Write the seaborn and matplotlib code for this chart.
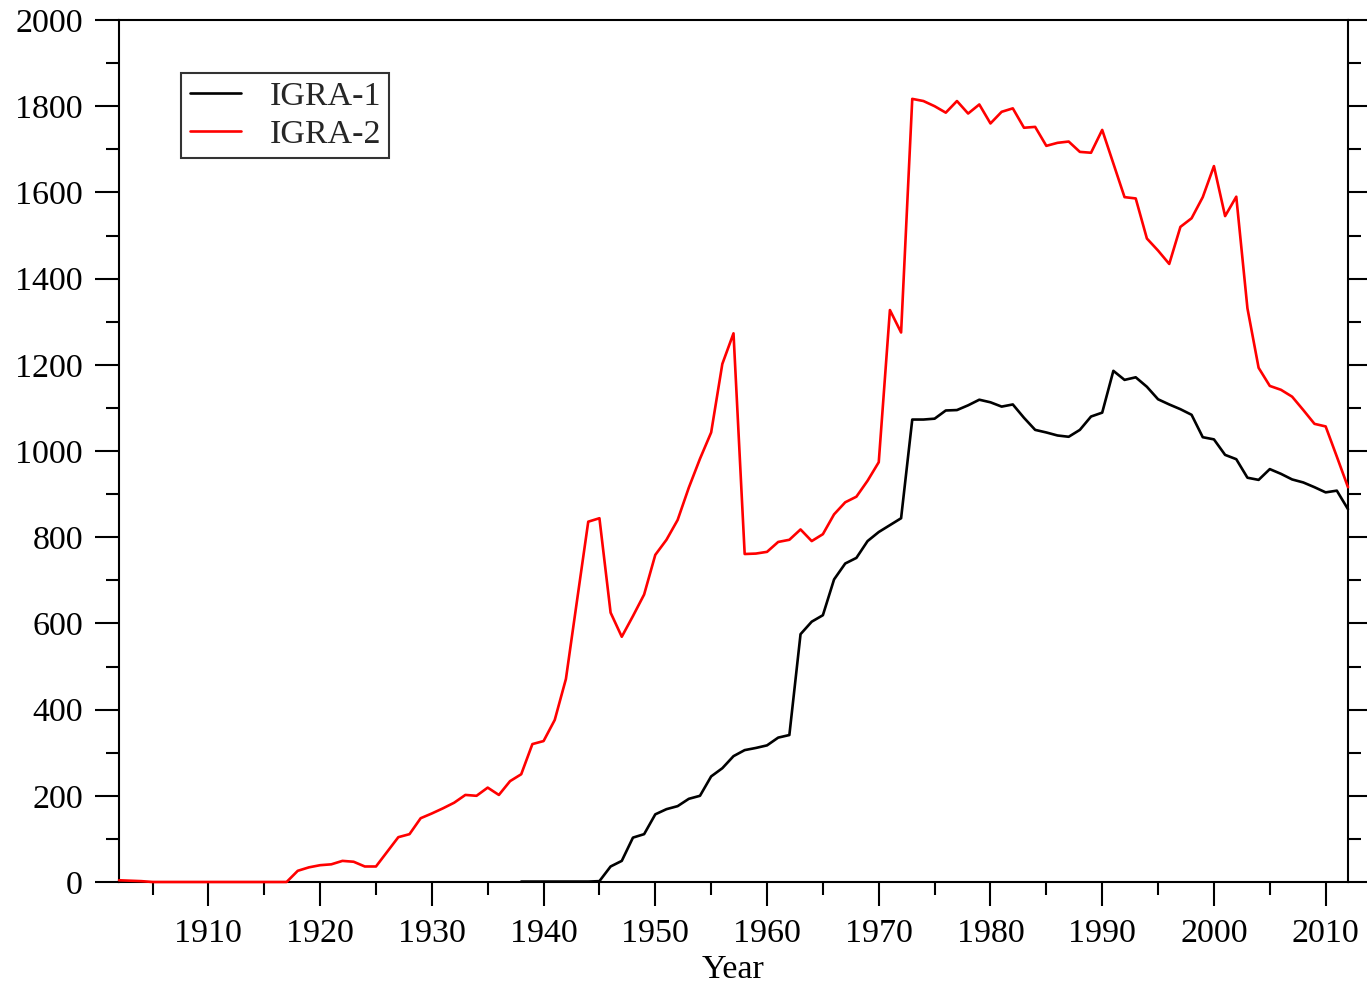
import numpy as np
import pandas as pd
import matplotlib
matplotlib.use("Agg")
import matplotlib.pyplot as plt
from matplotlib.ticker import MultipleLocator
import seaborn as sns

# ---- data ----
igra2_start = 1902
igra2_values = [4, 3, 2,
                0, 0, 0, 0, 0, 0, 0, 0, 0, 0, 0, 0, 0,
                26, 34, 39, 41, 49, 47, 36, 36, 70, 104,
                111, 148, 159, 171, 184, 202, 200, 219, 202, 234,
                250, 320, 327, 376, 471, 654, 836, 844, 625, 569,
                617, 667, 759, 794, 840, 915, 982, 1043, 1202, 1273,
                761, 762, 766, 789, 794, 818, 791, 807, 853, 881,
                894, 931, 974, 1327, 1275, 1817, 1812, 1800, 1785, 1812,
                1783, 1804, 1760, 1787, 1795, 1750, 1752, 1708, 1715, 1718,
                1694, 1692, 1745, 1667, 1589, 1586, 1493, 1465, 1434, 1520,
                1540, 1589, 1661, 1545, 1590, 1331, 1193, 1151, 1142, 1126,
                1095, 1063, 1057, 987, 916]

igra1_start = 1938
igra1_values = [1, 1, 1, 1, 1, 1, 1, 2,
                36, 49, 103, 111, 157, 169, 176, 193, 200, 245,
                264, 292, 306, 311, 317, 335, 341, 575, 604, 619,
                702, 739, 752, 791, 812, 828, 844, 1073, 1073, 1075,
                1094, 1095, 1106, 1119, 1113, 1103, 1108, 1077, 1049, 1043,
                1036, 1033, 1049, 1080, 1089, 1186, 1165, 1171, 1149, 1120,
                1108, 1097, 1084, 1032, 1027, 991, 981, 938, 933, 958,
                947, 934, 927, 916, 904, 908, 865]

series_names = ["IGRA-1", "IGRA-2"]
series_colors = ["#000000", "#ff0000"]
x_label = "Year"

igra2_years = np.arange(igra2_start, igra2_start + len(igra2_values))
igra1_years = np.arange(igra1_start, igra1_start + len(igra1_values))

df = pd.concat([
    pd.DataFrame({"Year": igra1_years, "Count": igra1_values, "Dataset": series_names[0]}),
    pd.DataFrame({"Year": igra2_years, "Count": igra2_values, "Dataset": series_names[1]}),
], ignore_index=True)

# ---- style ----
sns.set_style("white")
plt.rcParams["font.family"] = ["Liberation Serif", "DejaVu Serif"]
plt.rcParams["mathtext.fontset"] = "stix"

fig = plt.figure(figsize=(13.67, 9.83), dpi=100)
ax = fig.add_axes([119 / 1367, 1 - 882 / 983, (1348 - 119) / 1367, (882 - 20) / 983])

sns.lineplot(data=df, x="Year", y="Count", hue="Dataset",
             palette=dict(zip(series_names, series_colors)),
             linewidth=1.9, ax=ax, estimator=None, sort=True)
for ln in ax.lines:
    ln.set_clip_on(False)
    ln.set_zorder(3)

ax.set_xlim(1902, 2012)
ax.set_ylim(0, 2000)
ax.xaxis.set_major_locator(MultipleLocator(10))
ax.xaxis.set_minor_locator(MultipleLocator(5))
ax.yaxis.set_major_locator(MultipleLocator(200))
ax.yaxis.set_minor_locator(MultipleLocator(100))

for sp in ax.spines.values():
    sp.set_visible(True)
    sp.set_color("black")
    sp.set_linewidth(1.5)
    sp.set_zorder(2.5)

ax.tick_params(axis="both", which="both", direction="out", color="black",
               width=1.5, labelsize=24.5, labelcolor="black")
ax.tick_params(axis="both", which="major", length=17.5)
ax.tick_params(axis="both", which="minor", length=9.5)
ax.tick_params(axis="x", which="both", bottom=True, top=False, pad=9)
ax.tick_params(axis="y", which="both", left=True, right=True, labelright=False, pad=8.5)

ax.set_xlabel(x_label, fontsize=24.5, color="black", labelpad=3.5)
ax.set_ylabel("")

leg = ax.legend(loc="upper left", bbox_to_anchor=(62 / 1229, (882 - 73) / 862),
                borderaxespad=0, fontsize=24.5, frameon=True, fancybox=False,
                handlelength=1.5, handletextpad=0.85, labelspacing=0.2,
                borderpad=0.25, title=None)
leg.get_frame().set_edgecolor("black")
leg.get_frame().set_linewidth(1.5)
for h in leg.get_lines():
    h.set_linewidth(1.9)

fig.savefig("out.png", dpi=100)
